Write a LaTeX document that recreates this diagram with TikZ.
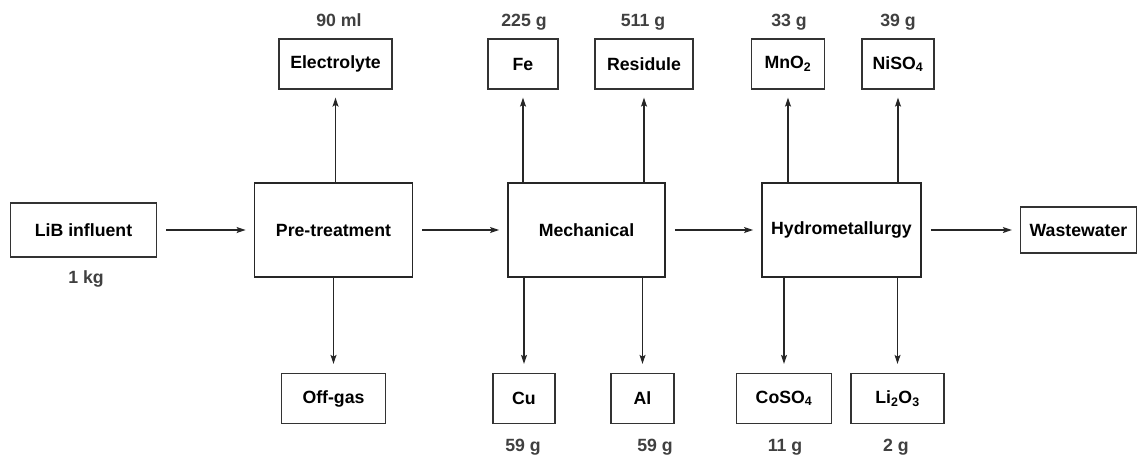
\documentclass[tikz,border=0pt]{standalone}
\usepackage{fontspec}
\setmainfont{Liberation Sans}
\usetikzlibrary{arrows.meta}

\begin{document}
\begin{tikzpicture}[
    x=1pt, y=-1pt,
    >={Stealth[length=9pt,width=6pt,inset=1.8pt]},
    every node/.style={font=\fontsize{17.7}{20}\selectfont\bfseries, inner sep=0pt},
    stage/.style={draw=black!85, line width=1.8pt, minimum width=158pt, minimum height=94pt},
    outbox/.style={draw=black!80, line width=1.25pt, minimum height=50pt},
    mass/.style={text=black!75, text height=12.5pt, text depth=3.5pt},
    flow/.style={->, line width=1.2pt, black!85}
]
    \useasboundingbox (0,0) rectangle (1138,459);

    % main line
    \node[outbox, minimum width=146pt, minimum height=54pt] (lib) at (83.5,230) {LiB influent};
    \node[stage] (pre) at (333.5,230) {Pre-treatment};
    \node[stage, minimum width=157pt] (mech) at (586.5,230) {Mechanical};
    \node[stage, minimum width=159pt] (hydro) at (841.5,230) {Hydrometallurgy};
    \node[outbox, minimum width=116pt, minimum height=46pt] (waste) at (1078.5,230) {Wastewater};

    % outputs above
    \node[outbox, minimum width=113pt] (elec) at (335.5,64) {Electrolyte};
    \node[outbox, minimum width=70pt] (fe) at (523,64) {Fe};
    \node[outbox, minimum width=98pt] (resid) at (644,64) {Residule};
    \node[outbox, minimum width=73pt] (mno) at (788,64) {MnO\textsubscript{2}};
    \node[outbox, minimum width=72pt] (niso) at (898,64) {NiSO\textsubscript{4}};

    % outputs below
    \node[outbox, minimum width=104pt] (offgas) at (333.5,398.5) {Off-gas};
    \node[outbox, minimum width=62pt] (cu) at (524,398.5) {Cu};
    \node[outbox, minimum width=63pt] (al) at (642.5,398.5) {Al};
    \node[outbox, minimum width=95pt] (coso) at (784,398.5) {CoSO\textsubscript{4}};
    \node[outbox, minimum width=93pt] (lio) at (897.5,398.5) {Li\textsubscript{2}O\textsubscript{3}};

    % amounts
    \node[mass] (m-lib) at (86,278.5) {1 kg};
    \node[mass] (m-elec) at (339,21.5) {90 ml};
    \node[mass] (m-fe) at (524,21.5) {225 g};
    \node[mass] (m-resid) at (643,21.5) {511 g};
    \node[mass] (m-mno) at (789,21.5) {33 g};
    \node[mass] (m-niso) at (898,21.5) {39 g};
    \node[mass] (m-cu) at (523,446.5) {59 g};
    \node[mass] (m-al) at (655,446.5) {59 g};
    \node[mass] (m-coso) at (785,446.5) {11 g};
    \node[mass] (m-lio) at (896,446.5) {2 g};

    \foreach \a/\b in {lib/pre, pre/mech, mech/hydro, hydro/waste}
        \draw[flow, shorten <=9pt, shorten >=8pt] (\a) -- (\b);
    \foreach \out/\st in {elec/pre, fe/mech, resid/mech, mno/hydro, niso/hydro}
        \draw[flow, shorten >=8pt] (\out.south |- \st.north) -- (\out.south);
    \foreach \out/\st in {offgas/pre, cu/mech, al/mech, coso/hydro, lio/hydro}
        \draw[flow, shorten >=9pt] (\out.north |- \st.south) -- (\out.north);
\end{tikzpicture}
\end{document}
